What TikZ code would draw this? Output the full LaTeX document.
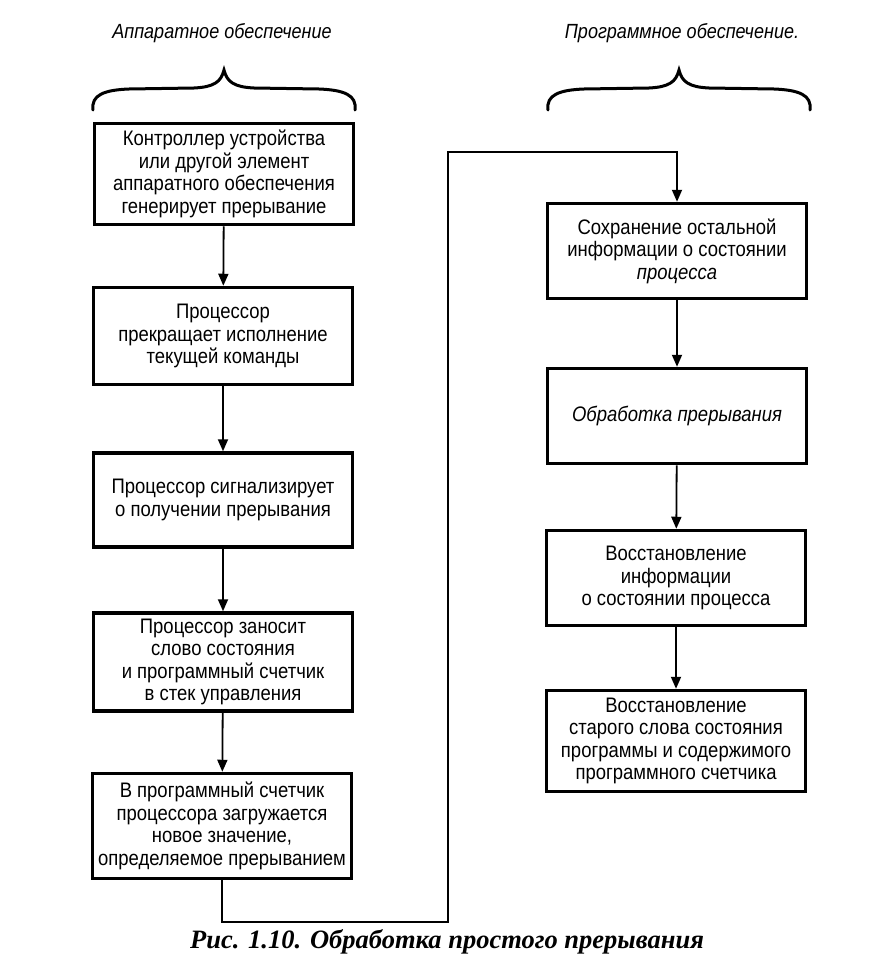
\documentclass[tikz,border=0pt]{standalone}
\usepackage{fontspec}
\setmainfont{Liberation Sans}[FakeStretch=0.88]
\newfontfamily\capfont{Liberation Serif}
\usetikzlibrary{arrows.meta}

\begin{document}
\begin{tikzpicture}[
    x = 1pt,
    y = -1pt,
    stepbox/.style = {draw, line width=3.5pt, minimum width=259pt,
      align=center, inner sep=0pt, font=\fontsize{21}{22.5}\selectfont},
    flow/.style = {line width=1.8pt, -{Triangle[length=12pt, width=10pt]}},
    ]
    \useasboundingbox (0,0) rectangle (884,964);
    % headings
    \node (hwhead) at (222,33) {\fontsize{20.5}{24}\selectfont\itshape Аппаратное обеспечение};
    \node (swhead) at (682,33) {\fontsize{20.5}{24}\selectfont\itshape Программное обеспечение.};
    % braces
    \foreach \cx in {224, 679}
    \draw[line width=3pt, line cap=round]
    (\cx-131,110) .. controls (\cx-133,95) and (\cx-120,90) .. (\cx-95,89)
    -- (\cx-30,88) .. controls (\cx-10,87) and (\cx-3,82) .. (\cx,70)
    .. controls (\cx+3,82) and (\cx+10,87) .. (\cx+30,88)
    -- (\cx+95,89) .. controls (\cx+120,90) and (\cx+133,95) .. (\cx+131,110);
    % hardware column
    \node[stepbox, minimum height=101pt] (ctrl) at (224,174)
    {Контроллер устройства\\или другой элемент\\аппаратного обеспечения\\генерирует прерывание};
    \node[stepbox, minimum height=97pt] (stop) at (223,336)
    {Процессор\\прекращает исполнение\\текущей команды};
    \node[stepbox, minimum height=94pt] (signal) at (223,500)
    {Процессор сигнализирует\\о получении прерывания};
    \node[stepbox, minimum height=98pt] (push) at (223,662)
    {Процессор заносит\\слово состояния\\и программный счетчик\\в стек управления};
    \node[stepbox, minimum height=105pt] (load) at (222,826)
    {В программный счетчик\\процессора загружается\\новое значение,\\определяемое прерыванием};
    % software column
    \node[stepbox, minimum height=95pt] (save) at (677,251)
    {Сохранение остальной\\информации о состоянии\\\textit{процесса}};
    \node[stepbox, minimum height=95pt] (handle) at (677,416)
    {\textit{Обработка прерывания}};
    \node[stepbox, minimum height=95pt] (restinfo) at (676,578)
    {Восстановление\\информации\\о состоянии процесса};
    \node[stepbox, minimum height=101pt] (restpsw) at (676,741)
    {Восстановление\\старого слова состояния\\программы и содержимого\\программного счетчика};
    % arrows
    \draw[flow] (ctrl) -- (stop);
    \draw[flow] (stop) -- (signal);
    \draw[flow] (signal) -- (push);
    \draw[flow] (push) -- (load);
    \draw[flow] (save) -- (handle);
    \draw[flow] (handle) -- (restinfo);
    \draw[flow] (restinfo) -- (restpsw);
    % return path
    \coordinate (lowturn) at (448,922);
    \coordinate (highturn) at (448,152);
    \draw[flow] (load.south) |- (lowturn) -- (highturn) -| (save.north);
    % caption
    \node (caption) at (447,942)
    {\capfont\fontsize{26.5}{28}\selectfont\bfseries\itshape Рис. 1.10. Обработка простого прерывания};
\end{tikzpicture}
\end{document}
